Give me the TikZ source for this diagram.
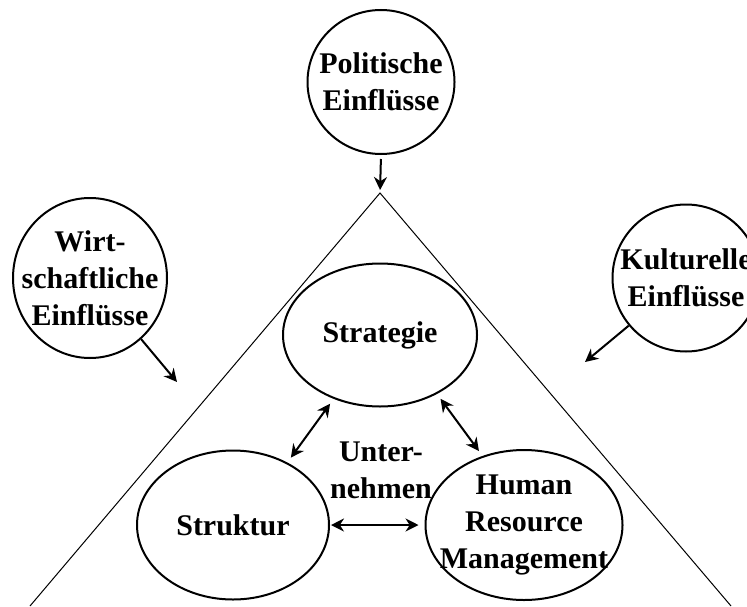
\documentclass[tikz,border=0pt]{standalone}
\usepackage{fontspec}
\setmainfont{Liberation Serif}
\usepackage{tikz}
\usetikzlibrary{shapes.geometric}
\usetikzlibrary{arrows.meta}
\newcommand{\bubblefont}{\fontsize{15}{18.5}\selectfont\bfseries}
\tikzstyle{bubble}=[draw=black,line width=1pt,ellipse,inner sep=-20pt,align=center,font=\bubblefont]
\tikzstyle{link}=[line width=1pt]

\begin{document}
\begin{tikzpicture}[x=0.5pt,y=0.5pt,>={Stealth[length=6.5pt,width=6.5pt]}]
        \clip (0,0) rectangle (747,606);
        \node[bubble,minimum width=73.5pt,minimum height=72pt] (pol) at (381,524) {Politische\\Einflüsse};
        \node[bubble,minimum width=77pt,minimum height=80pt] (wirt) at (90,328) {Wirt-\\schaftliche\\Einflüsse};
        \node[bubble,minimum width=73.5pt,minimum height=73.5pt] (kult) at (686,328) {Kulturelle\\Einflüsse};
        \node[bubble,minimum width=97pt,minimum height=71.5pt] (strat) at (380,271) {Strategie};
        \node[bubble,minimum width=96pt,minimum height=74.5pt] (struk) at (233,81) {Struktur};
        \node[bubble,minimum width=98.5pt,minimum height=75pt] (hrm) at (524,81) {Human\\Resource\\Management};
        \node[align=center,font=\bubblefont] (unt) at (381,136) {Unter-\\nehmen};
        \coordinate (apex) at (380,413);
        \coordinate (bl) at (30,0);
        \coordinate (br) at (731,0);
        \coordinate (wz) at (177,224);
        \coordinate (kz) at (585,244);
        \draw[line width=0.5pt] (bl) -- (apex) -- (br);
        \draw[link,->,shorten <=2pt,shorten >=1.5pt] (pol.south) -- (apex);
        \draw[link,->] (wirt) -- (wz);
        \draw[link,->] (kult) -- (kz);
        \draw[link,<->,shorten <=3pt,shorten >=3pt] (strat.234) -- (struk.49);
        \draw[link,<->,shorten <=3pt,shorten >=3pt] (strat.314) -- (hrm.121);
        \draw[link,<->,shorten <=0.5pt,shorten >=3pt] (struk) -- (hrm);
      \end{tikzpicture}
\end{document}
